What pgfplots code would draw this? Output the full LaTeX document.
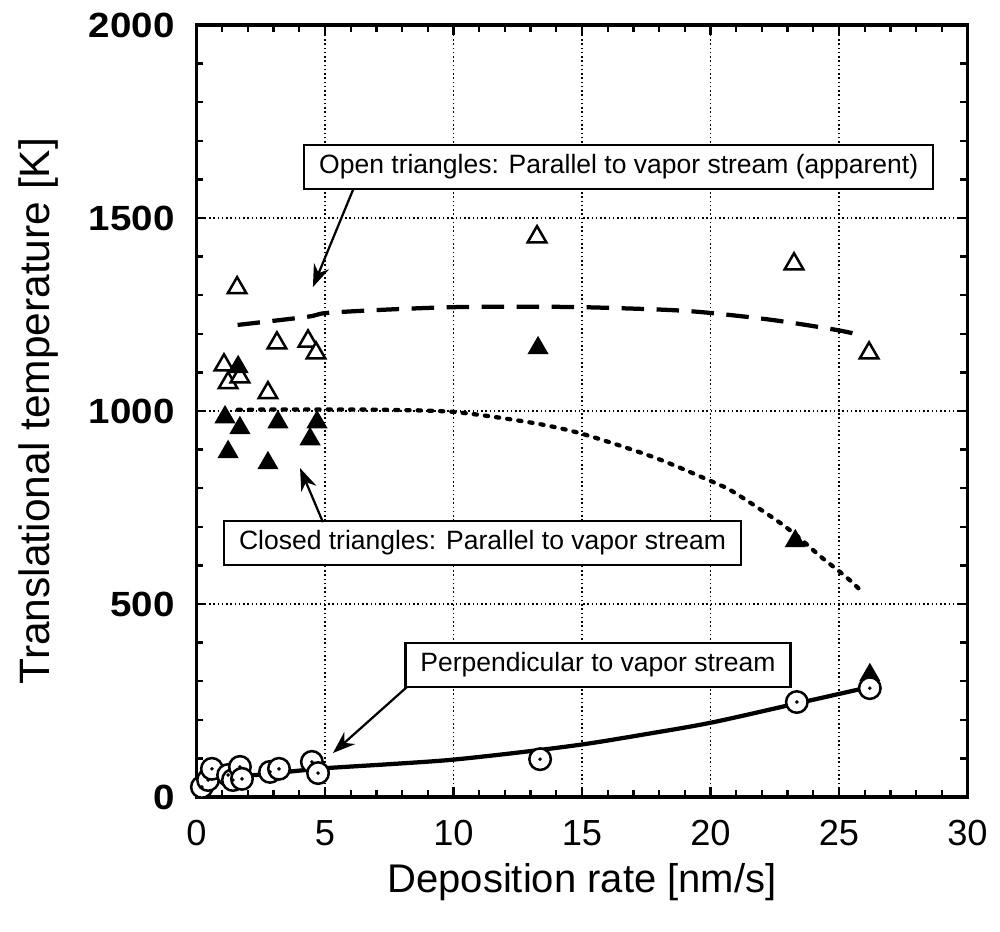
\documentclass[border=0pt]{standalone}
\usepackage{fontspec}
\setmainfont{Liberation Sans}
\usepackage{pgfplots}
\pgfplotsset{compat=1.18}
\usetikzlibrary{arrows.meta}
\begin{document}
\begin{tikzpicture}
\begin{axis}[
  scale only axis, width=308.4pt, height=308.8pt,
  xmin=0, xmax=30, ymin=0, ymax=2000,
  xtick={0,5,...,30}, ytick={0,500,...,2000},
  minor x tick num=4, minor y tick num=4,
  tick align=inside,
  major tick length=4pt, minor tick length=2.8pt,
  every tick/.style={black, line width=0.9pt},
  axis line style={line width=1.5pt},
  grid=major,
  major grid style={black, line width=0.55pt, dash pattern=on 0.6pt off 1.1pt},
  /pgf/number format/assume math mode=true,
  /pgf/number format/1000 sep={},
  xticklabel style={font=\fontsize{14.5}{14.5}\selectfont, anchor=center, yshift=-14.4pt},
  yticklabel style={font=\fontsize{14}{14}\selectfont\bfseries, anchor=east, inner sep=0pt, xshift=-8.6pt, xscale=1.1},
  xlabel={Deposition rate [nm/s]},
  ylabel={Translational temperature [K]},
  xlabel style={font=\fontsize{16}{16}\selectfont, at={(axis description cs:0.5,0)}, anchor=center, yshift=-34pt},
  ylabel style={font=\fontsize{17}{17}\selectfont, at={(axis description cs:-0.205,0.5)}, anchor=center},
  clip=false,
]
% fitted curves
\addplot[black, line width=1.7pt, dash pattern=on 9pt off 5pt, smooth] coordinates {
 (1.6,1223) (4.3,1244) (5.07,1254) (7.5,1263) (10,1269) (12.5,1270) (15,1269)
 (18.3,1262) (20,1254) (22.5,1235) (24.9,1210) (25.8,1197)};
\addplot[black, line width=1.7pt, dash pattern=on 1.3pt off 3.2pt, line cap=round, smooth] coordinates {
 (1.6,1003) (3,1004) (5,1004) (7.5,1003) (10.1,997) (13.1,969) (15.05,940)
 (17.8,880) (20.1,816) (20.9,790) (22.5,720) (23.3,680) (24.3,622) (25.04,583) (25.5,557) (25.9,531)};
\addplot[black, line width=1.7pt, smooth] coordinates {
 (0.5,52) (2.3,57) (3.8,67) (5.1,75) (7.5,85) (9.86,96) (12.5,115) (15.1,137)
 (17.5,163) (20.05,193) (23.4,243) (26.2,285)};
% open triangles
\addplot[only marks, mark=triangle*, mark size=4.3pt, mark options={fill=white, draw=black, line width=1pt}] coordinates {
 (1.58,1319) (3.13,1176) (4.34,1181) (4.65,1150) (1.07,1119) (1.23,1073) (1.69,1088)
 (2.78,1047) (13.25,1451) (23.25,1381) (26.17,1150)};
% closed triangles
\addplot[only marks, mark=triangle*, mark size=4.3pt, mark options={fill=black, draw=black, line width=0.6pt}] coordinates {
 (1.62,1114) (1.11,984) (1.69,956) (3.17,971) (4.69,971) (4.42,927) (1.23,894)
 (2.78,865) (13.29,1163) (23.3,663) (26.2,316)};
% circles
\addplot[only marks, mark=*, mark size=4.3pt, mark options={fill=white, draw=black, line width=1pt}] coordinates {
 (0.21,26) (0.45,44) (0.6,73) (1.23,57) (1.42,44) (1.69,78) (1.77,47) (2.86,65)
 (3.21,73) (4.49,91) (4.73,62) (13.37,98) (23.36,246) (26.2,282)};
\addplot[only marks, mark=*, mark size=0.5pt, mark options={fill=black, draw=black}] coordinates {
 (0.21,26) (0.45,44) (0.6,73) (1.23,57) (1.42,44) (1.69,78) (1.77,47) (2.86,65)
 (3.21,73) (4.49,91) (4.73,62) (13.37,98) (23.36,246) (26.2,282)};
% annotations
\tikzset{ann/.style={draw=black, line width=0.9pt, fill=white, font=\fontsize{10.6}{10.6}\selectfont, inner xsep=6pt, minimum height=17.6pt, anchor=center}}
\node[ann] at (axis cs:16.43,1632) {Open triangles: Parallel to vapor stream (apparent)};
\node[ann] at (axis cs:11.13,658) {Closed triangles: Parallel to vapor stream};
\node[ann] at (axis cs:15.62,342) {Perpendicular to vapor stream};
\draw[line width=0.9pt, -{Stealth[length=9pt,width=6.5pt]}] (axis cs:6.09,1573) -- (axis cs:4.53,1321);
\draw[line width=0.9pt, -{Stealth[length=9pt,width=6.5pt]}] (axis cs:4.92,712) -- (axis cs:4.03,852);
\draw[line width=0.9pt, -{Stealth[length=9pt,width=6.5pt]}] (axis cs:8.19,285) -- (axis cs:5.31,114);
\end{axis}
\path (current axis.south west) ++(-78.6pt,-54pt) rectangle ++(400pt,372.8pt);
\end{tikzpicture}
\end{document}
